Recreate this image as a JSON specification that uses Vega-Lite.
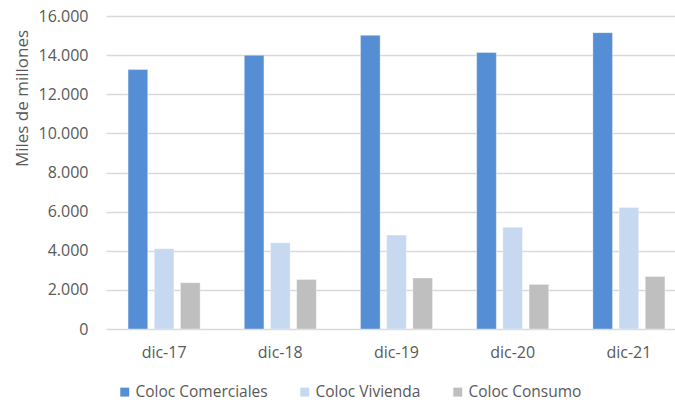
{
  "$schema": "https://vega.github.io/schema/vega-lite/v6.json",
  "autosize": {"type": "none"},
  "padding": {"left": 106, "top": 16, "right": 0, "bottom": 73},
  "width": 581,
  "height": 313,
  "background": "white",
  "config": {
    "font": "Open Sans",
    "view": {"stroke": null},
    "axis": {"labelColor": "#595959", "titleColor": "#595959", "labelFont": "Open Sans", "titleFont": "Open Sans"},
    "legend": {"labelColor": "#595959", "labelFont": "Open Sans"}
  },
  "data": {
    "values": [
      {"periodo": "dic-17", "serie": "Coloc Comerciales", "valor": 13260},
      {"periodo": "dic-17", "serie": "Coloc Vivienda", "valor": 4100},
      {"periodo": "dic-17", "serie": "Coloc Consumo", "valor": 2365},
      {"periodo": "dic-18", "serie": "Coloc Comerciales", "valor": 13990},
      {"periodo": "dic-18", "serie": "Coloc Vivienda", "valor": 4410},
      {"periodo": "dic-18", "serie": "Coloc Consumo", "valor": 2535},
      {"periodo": "dic-19", "serie": "Coloc Comerciales", "valor": 15010},
      {"periodo": "dic-19", "serie": "Coloc Vivienda", "valor": 4800},
      {"periodo": "dic-19", "serie": "Coloc Consumo", "valor": 2605},
      {"periodo": "dic-20", "serie": "Coloc Comerciales", "valor": 14130},
      {"periodo": "dic-20", "serie": "Coloc Vivienda", "valor": 5195},
      {"periodo": "dic-20", "serie": "Coloc Consumo", "valor": 2280},
      {"periodo": "dic-21", "serie": "Coloc Comerciales", "valor": 15150},
      {"periodo": "dic-21", "serie": "Coloc Vivienda", "valor": 6215},
      {"periodo": "dic-21", "serie": "Coloc Consumo", "valor": 2690}
    ]
  },
  "mark": {"type": "bar", "stroke": "#ffffff", "strokeOpacity": 0.35, "strokeWidth": 1},
  "encoding": {
    "x": {
      "field": "periodo",
      "type": "nominal",
      "sort": null,
      "scale": {"paddingInner": 0.38, "paddingOuter": 0.19},
      "axis": {
        "title": null,
        "labelAngle": 0,
        "labelFontSize": 16,
        "labelPadding": 15,
        "domain": false,
        "ticks": false
      }
    },
    "xOffset": {
      "field": "serie",
      "type": "nominal",
      "sort": ["Coloc Comerciales", "Coloc Vivienda", "Coloc Consumo"],
      "scale": {"paddingInner": 0.25, "paddingOuter": 0}
    },
    "y": {
      "field": "valor",
      "type": "quantitative",
      "scale": {"domain": [0, 16000], "nice": false},
      "axis": {
        "title": "Miles de millones",
        "titleFontSize": 17,
        "titleFontWeight": "normal",
        "titleAngle": -90,
        "titleX": -84,
        "titleY": 82,
        "titleAlign": "center",
        "titleBaseline": "middle",
        "values": [0, 2000, 4000, 6000, 8000, 10000, 12000, 14000, 16000],
        "labelExpr": "replace(format(datum.value, ',d'), /,/g, '.')",
        "labelFontSize": 16,
        "labelPadding": 18,
        "domain": false,
        "ticks": false,
        "grid": true,
        "gridColor": "#d9d9d9",
        "gridWidth": 1.3
      }
    },
    "color": {
      "field": "serie",
      "type": "nominal",
      "sort": ["Coloc Comerciales", "Coloc Vivienda", "Coloc Consumo"],
      "scale": {
        "domain": ["Coloc Comerciales", "Coloc Vivienda", "Coloc Consumo"],
        "range": ["#558ed5", "#c6d9f1", "#bfbfbf"]
      },
      "legend": {
        "title": null,
        "orient": "none",
        "direction": "horizontal",
        "legendX": 11,
        "legendY": 368,
        "symbolType": "square",
        "symbolSize": 80,
        "symbolStrokeWidth": 0,
        "labelFontSize": 15.5,
        "labelOffset": 3,
        "columnPadding": 29
      }
    }
  }
}
